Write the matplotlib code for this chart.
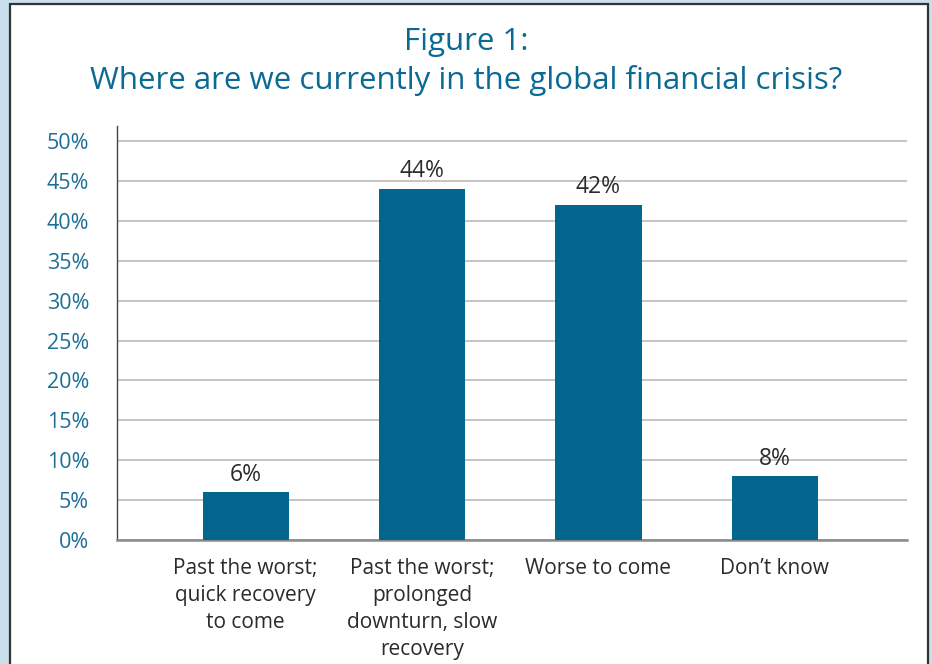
import matplotlib
matplotlib.use("Agg")
import matplotlib.pyplot as plt
from matplotlib.patches import Rectangle
from matplotlib.ticker import FixedLocator

# Survey responses
categories = [
    "Past the worst;\nquick recovery\nto come",
    "Past the worst;\nprolonged\ndownturn, slow\nrecovery",
    "Worse to come",
    "Don\u2019t know",
]
shares = [6, 44, 42, 8]
value_labels = ["6%", "44%", "42%", "8%"]
y_ticks = [0, 5, 10, 15, 20, 25, 30, 35, 40, 45, 50]
y_tick_labels = [f"{t}%" for t in y_ticks]

title_lines = ["Figure 1:", "Where are we currently in the global financial crisis?"]

BAR = "#03668f"
TEAL = "#0b6a93"
TICK = "#1d6f98"
TEXT = "#2b2b2b"
FONT = ["Open Sans", "DejaVu Sans"]

plt.rcParams["font.family"] = FONT

W, H = 932, 664
fig = plt.figure(figsize=(W / 100, H / 100), dpi=100)
fig.patch.set_facecolor("#c9dfeb")

# white framed panel behind everything
panel = Rectangle((10 / W, -0.05), (928 - 10) / W, 1.05 - 4 / H,
                  transform=fig.transFigure, facecolor="white",
                  edgecolor="#333333", linewidth=1.6, zorder=-10)
fig.patches.append(panel)

fig.text(0.5, 1 - 42 / H, title_lines[0], ha="center", va="center",
         fontsize=22.5, color=TEAL)
fig.text(0.5, 1 - 80 / H, title_lines[1], ha="center", va="center",
         fontsize=22.5, color=TEAL)

left, right = 117 / W, 907 / W
bottom, top = 1 - 540 / H, 1 - 126 / H
ax = fig.add_axes([left, bottom, right - left, top - bottom])
ax.set_facecolor("none")

x = list(range(len(categories)))
bars = ax.bar(x, shares, width=0.49, color=BAR, zorder=3)

for xi, v, lab in zip(x, shares, value_labels):
    ax.annotate(lab, (xi, v), xytext=(0, 4), textcoords="offset points",
                ha="center", va="bottom", fontsize=16.5, color=TEXT, zorder=4)

ax.set_xlim(-0.73, 3.75)
ax.set_ylim(0, 51.9)
ax.yaxis.set_major_locator(FixedLocator(y_ticks))
ax.set_yticklabels(y_tick_labels)
ax.set_xticks(x)
ax.set_xticklabels(categories, linespacing=1.37)

ax.grid(axis="y", color="#b5b5b5", linewidth=1.1, zorder=1)
ax.set_axisbelow(True)

for s in ["top", "right"]:
    ax.spines[s].set_visible(False)
ax.spines["left"].set_color("#444444")
ax.spines["left"].set_linewidth(1.0)
ax.spines["bottom"].set_color("#8a8a8a")
ax.spines["bottom"].set_linewidth(1.8)

ax.tick_params(axis="y", length=0, pad=20, labelsize=15.5, labelcolor=TICK)
ax.tick_params(axis="x", length=0, pad=13, labelsize=15, labelcolor=TEXT)

fig.savefig("out.png", dpi=100, facecolor=fig.get_facecolor())
